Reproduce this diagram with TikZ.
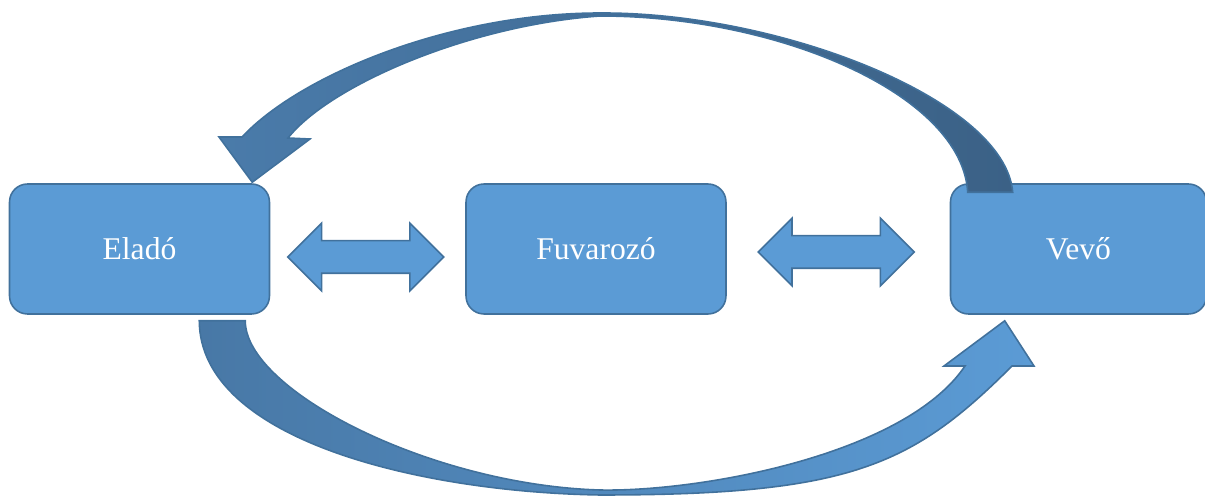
\documentclass[tikz,border=0pt]{standalone}
\usepackage{fontspec}
\setmainfont{Liberation Serif}
\usepackage{tikz}
\usetikzlibrary{positioning,calc,shapes.arrows}
\definecolor{boxblue}{RGB}{91,155,213}
\definecolor{boxedge}{RGB}{65,113,156}
\definecolor{arrlight}{RGB}{74,123,170}
\definecolor{arrdark}{RGB}{59,97,134}
\definecolor{arrmid}{RGB}{72,120,166}

\begin{document}
\begin{tikzpicture}[x=0.02cm, y=-0.02cm,
    party/.style={rectangle, draw=boxedge, fill=boxblue, rounded corners=0.36cm,
        minimum width=5.2cm, minimum height=2.6cm, line width=0.9pt,
        text=white, font=\fontsize{18}{22}\selectfont},
    link/.style={double arrow, draw=boxedge, fill=boxblue, line width=0.9pt,
        minimum height=3.12cm, double arrow head extend=0.35cm,
        inner xsep=0pt, inner ysep=0.31cm},
    flow/.style={draw=boxedge, line width=0.9pt},
    node distance=3.9cm
]
\useasboundingbox (0,0) rectangle (1205,496);

\node[party] (elado) at (139.5,249) {Eladó};
\node[party, right=of elado] (fuvar) {Fuvarozó};
\node[party, minimum width=5.12cm, right=4.46cm of fuvar] (vevo) {Vevő};

\node[link] (l1) at ($(elado.east)!0.5!(fuvar.west)+(-2,8)$) {};
\node[link] (l2) at ($(fuvar.east)!0.5!(vevo.west)+(-2,3)$) {};

% Vevo -> Elado, over the top
\coordinate (ttailL) at ($(vevo.north west)+(18,9)$);
\coordinate (ttailR) at ($(vevo.north west)+(63,9)$);
\coordinate (ttip) at ($(elado.north east)+(-18,-1)$);
\draw[flow, left color=arrlight, right color=arrdark]
  (ttailR) .. controls (1005,100) and (780,12) .. (600,13)
  .. controls (450,13) and (300,75) .. (242,137)
  -- (219,137) -- (ttip) -- (310,139) -- (288,138)
  .. controls (330,85) and (470,25) .. (600,16)
  .. controls (780,16) and (962,95) .. (ttailL) -- cycle;

% Elado -> Vevo, under the bottom
\coordinate (btailL) at ($(elado.south east)+(-71,6)$);
\coordinate (btailR) at ($(elado.south east)+(-25,6)$);
\coordinate (btip) at ($(vevo.south west)+(55,6)$);
\draw[flow, left color=arrmid, right color=boxblue]
  (btailL) .. controls (200,440) and (420,492) .. (600,495)
  .. controls (850,495) and (912,466) .. (1012,366)
  -- (1034,366) -- (btip) -- (944,366) -- (965,366)
  .. controls (905,455) and (700,492) .. (600,490)
  .. controls (430,485) and (245,390) .. (btailR) -- cycle;
\end{tikzpicture}
\end{document}
